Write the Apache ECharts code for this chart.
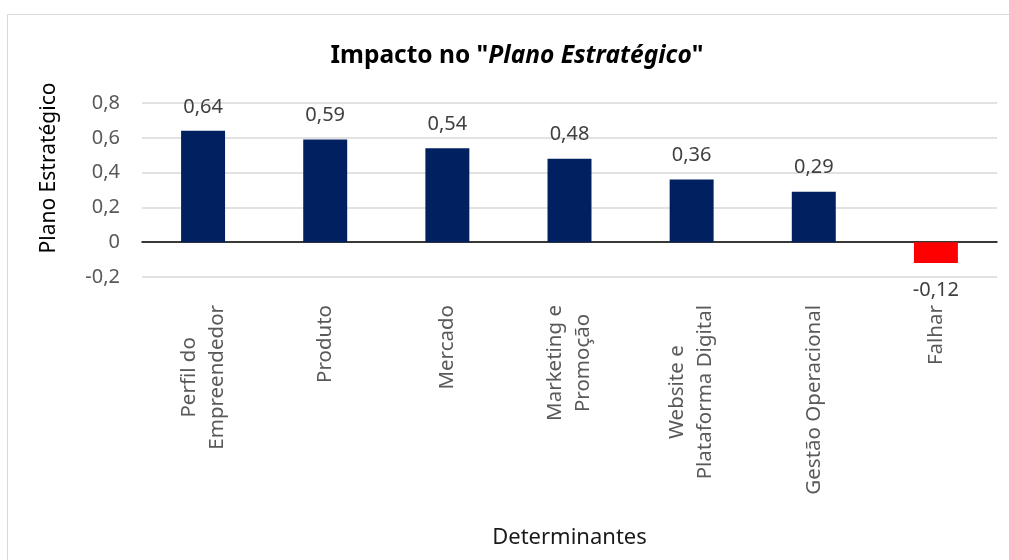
<!DOCTYPE html>
<html>
<head>
<meta charset="utf-8">
<script src="https://cdn.jsdelivr.net/npm/echarts@6/dist/echarts.min.js"></script>
<style>
  html, body { margin: 0; padding: 0; background: #fff; }
  #frame { position: absolute; left: 7px; top: 14px; width: 1020px; height: 570px; border: 1px solid #d9d9d9; box-sizing: border-box; }
  #chart { position: absolute; left: 0; top: 0; width: 1009px; height: 560px; }
</style>
</head>
<body>
<div id="frame"></div>
<div id="chart"></div>
<script>
// Determinants and their impact on the strategic plan
const categories = [
  'Perfil do\nEmpreendedor',
  'Produto',
  'Mercado',
  'Marketing e\nPromoção',
  'Website e\nPlataforma Digital',
  'Gestão Operacional',
  'Falhar'
];
const values = [0.64, 0.59, 0.54, 0.48, 0.36, 0.29, -0.12];

// Value axis range
const yMin = -0.2;
const yMax = 0.8;
const yStep = 0.2;

const FONT = '"Noto Sans", "Open Sans", sans-serif';
const POS_COLOR = '#002060';
const NEG_COLOR = '#ff0000';

const comma = (v, d) => v.toFixed(d).replace('.', ',');

const chart = echarts.init(document.getElementById('chart'), null, { renderer: 'canvas' });

chart.setOption({
  animation: false,
  backgroundColor: 'transparent',
  textStyle: { fontFamily: FONT },
  title: {
    text: '{a|Impacto no "}{b|Plano Estratégico}{a|"}',
    left: 512,
    textAlign: 'center',
    top: 39,
    textStyle: {
      rich: {
        a: { fontFamily: FONT, fontSize: 24.5, fontWeight: 'bold', color: '#000' },
        b: { fontFamily: FONT, fontSize: 24.5, fontWeight: 'bold', fontStyle: 'italic', color: '#000' }
      }
    }
  },
  grid: { left: 142, right: 12, top: 103, bottom: 283, outerBoundsMode: 'none', containLabel: false },
  xAxis: {
    type: 'category',
    data: categories,
    name: 'Determinantes',
    nameLocation: 'middle',
    nameGap: 250,
    nameTextStyle: { fontFamily: FONT, fontSize: 22, color: '#1a1a1a' },
    axisLine: { onZero: true, lineStyle: { color: '#000', width: 1.5 } },
    axisTick: { show: false },
    axisLabel: {
      interval: 0,
      rotate: 90,
      margin: 28,
      color: '#595959',
      formatter: v => v.split('\n').map(s => '{c|' + s + '}').join('\n'),
      rich: {
        c: { align: 'center', fontFamily: FONT, fontSize: 20.5, lineHeight: 28, color: '#595959' }
      }
    }
  },
  yAxis: {
    type: 'value',
    min: yMin,
    max: yMax,
    interval: yStep,
    name: 'Plano Estratégico',
    nameLocation: 'middle',
    nameGap: 82,
    nameTextStyle: { fontFamily: FONT, fontSize: 21, color: '#000', padding: [0, 0, 0, 44] },
    axisLine: { show: false },
    axisTick: { show: false },
    splitLine: { lineStyle: { color: '#d9d9d9', width: 1.5 } },
    axisLabel: {
      margin: 22,
      fontFamily: FONT,
      fontSize: 20,
      color: '#595959',
      formatter: v => {
        const r = Math.round(v * 10) / 10;
        return r === 0 ? '0' : comma(r, 1);
      }
    }
  },
  series: [{
    type: 'bar',
    barWidth: '36%',
    data: values.map(v => ({
      value: v,
      itemStyle: { color: v < 0 ? NEG_COLOR : POS_COLOR },
      label: { position: v < 0 ? 'bottom' : 'top', distance: v < 0 ? 17 : 14 }
    })),
    label: {
      show: true,
      fontFamily: FONT,
      fontSize: 20,
      color: '#404040',
      formatter: p => comma(p.value, 2)
    }
  }]
});
</script>
</body>
</html>
